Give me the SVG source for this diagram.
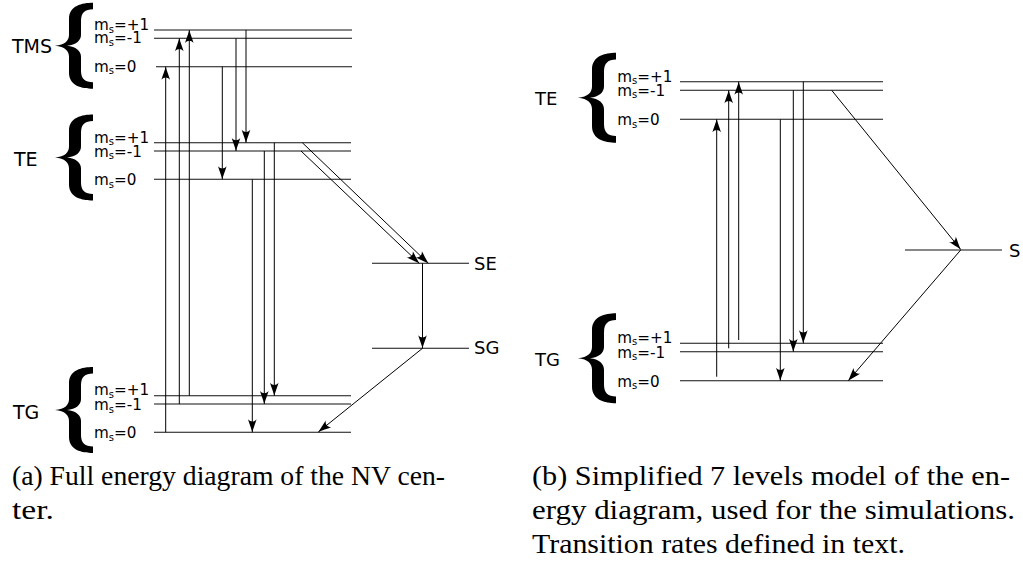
<svg xmlns="http://www.w3.org/2000/svg" width="1023" height="576" viewBox="0 0 1023 576">
<style>
.lvl{stroke:#111;stroke-width:1.1;fill:none}
.conn{stroke:#000;stroke-width:1;fill:none;marker-end:url(#ah)}
.ms{font-family:"DejaVu Sans",sans-serif;font-size:15.2px;fill:#000}
.sub{font-size:10px}
.grp{font-family:"DejaVu Sans",sans-serif;font-size:19px;fill:#000}
.grpr{font-family:"DejaVu Sans",sans-serif;font-size:18px;fill:#000}
.cap{font-family:"Liberation Serif","Times New Roman",serif;font-size:27px;fill:#000}
.brace{fill:#000}
</style>
<defs>
<marker id="ah" viewBox="-14 -6 15 12" refX="0" refY="0" markerWidth="15" markerHeight="12" markerUnits="userSpaceOnUse" orient="auto" overflow="visible">
<path d="M0,0 C-4,-1.2 -9,-3 -13,-4.3 C-10,-1.5 -10,1.5 -13,4.3 C-9,3 -4,1.2 0,0 Z" fill="#000"/>
</marker>
<path id="br" d="M38,0 C27,0 14,3 14,16 L14,32 C14,38 10,42 0,43 C10,44 14,48 14,54 L14,70 C14,83 27,86 38,86 L38,79.5 C30,79.5 26,76 26,68 L26,54 C26,48 21,44 12,43 C21,42 26,38 26,32 L26,18 C26,10 30,6.5 38,6.5 Z"/>
</defs>

<!-- Left diagram -->
<g id="TMS">
<use href="#br" class="brace" transform="translate(55,2.7)"/>
<text class="grp" x="12" y="53.3">TMS</text>
<line class="lvl" x1="154" y1="30" x2="352" y2="30"/>
<line class="lvl" x1="154" y1="38.3" x2="352" y2="38.3"/>
<line class="lvl" x1="156" y1="66.7" x2="352" y2="66.7"/>
<text class="ms" x="94" y="30.2">m<tspan class="sub" dy="2.5">s</tspan><tspan dy="-2.5">=+1</tspan></text>
<text class="ms" x="94" y="43.3">m<tspan class="sub" dy="2.5">s</tspan><tspan dy="-2.5">=-1</tspan></text>
<text class="ms" x="94" y="71.7">m<tspan class="sub" dy="2.5">s</tspan><tspan dy="-2.5">=0</tspan></text>
</g>

<g id="TE-a">
<use href="#br" class="brace" transform="translate(55,114.5)"/>
<text class="grp" x="14" y="165.7">TE</text>
<line class="lvl" x1="154" y1="142.7" x2="351" y2="142.7"/>
<line class="lvl" x1="154" y1="151" x2="351" y2="151"/>
<line class="lvl" x1="154" y1="179.3" x2="351" y2="179.3"/>
<text class="ms" x="94" y="142.8">m<tspan class="sub" dy="2.5">s</tspan><tspan dy="-2.5">=+1</tspan></text>
<text class="ms" x="94" y="156.7">m<tspan class="sub" dy="2.5">s</tspan><tspan dy="-2.5">=-1</tspan></text>
<text class="ms" x="94" y="185">m<tspan class="sub" dy="2.5">s</tspan><tspan dy="-2.5">=0</tspan></text>
</g>

<g id="SE">
<line class="lvl" x1="372" y1="263.3" x2="469" y2="263.3"/>
<text class="grpr" x="474" y="270">SE</text>
</g>

<g id="SG">
<line class="lvl" x1="372" y1="348.3" x2="469" y2="348.3"/>
<text class="grpr" x="474" y="354">SG</text>
</g>

<g id="TG-a">
<use href="#br" class="brace" transform="translate(55,367)"/>
<text class="grp" x="13" y="419">TG</text>
<line class="lvl" x1="154" y1="395.7" x2="351" y2="395.7"/>
<line class="lvl" x1="154" y1="404" x2="351" y2="404"/>
<line class="lvl" x1="154" y1="432.3" x2="351" y2="432.3"/>
<text class="ms" x="94" y="395.2">m<tspan class="sub" dy="2.5">s</tspan><tspan dy="-2.5">=+1</tspan></text>
<text class="ms" x="94" y="410">m<tspan class="sub" dy="2.5">s</tspan><tspan dy="-2.5">=-1</tspan></text>
<text class="ms" x="94" y="438.3">m<tspan class="sub" dy="2.5">s</tspan><tspan dy="-2.5">=0</tspan></text>
</g>

<!-- Right diagram -->
<g id="TE-b">
<use href="#br" class="brace" transform="translate(578,52.7) scale(1,1.047)"/>
<text class="grpr" x="535" y="105">TE</text>
<line class="lvl" x1="680" y1="81.7" x2="883" y2="81.7"/>
<line class="lvl" x1="680" y1="90.3" x2="883" y2="90.3"/>
<line class="lvl" x1="680" y1="119.3" x2="883" y2="119.3"/>
<text class="ms" x="617.3" y="81.8">m<tspan class="sub" dy="2.5">s</tspan><tspan dy="-2.5">=+1</tspan></text>
<text class="ms" x="617.3" y="95.7">m<tspan class="sub" dy="2.5">s</tspan><tspan dy="-2.5">=-1</tspan></text>
<text class="ms" x="617.3" y="125">m<tspan class="sub" dy="2.5">s</tspan><tspan dy="-2.5">=0</tspan></text>
</g>

<g id="S-b">
<line class="lvl" x1="905" y1="250" x2="1002" y2="250"/>
<text class="grpr" x="1009" y="256.5">S</text>
</g>

<g id="TG-b">
<use href="#br" class="brace" transform="translate(578,313.3) scale(1,1.047)"/>
<text class="grpr" x="535" y="366">TG</text>
<line class="lvl" x1="680" y1="343.3" x2="883" y2="343.3"/>
<line class="lvl" x1="680" y1="351.7" x2="883" y2="351.7"/>
<line class="lvl" x1="680" y1="380.7" x2="883" y2="380.7"/>
<text class="ms" x="617.3" y="342.8">m<tspan class="sub" dy="2.5">s</tspan><tspan dy="-2.5">=+1</tspan></text>
<text class="ms" x="617.3" y="357.7">m<tspan class="sub" dy="2.5">s</tspan><tspan dy="-2.5">=-1</tspan></text>
<text class="ms" x="617.3" y="386.7">m<tspan class="sub" dy="2.5">s</tspan><tspan dy="-2.5">=0</tspan></text>
</g>

<g id="connectors">
<!-- left: TG -> TMS -->
<line class="conn" x1="165.7" y1="432.3" x2="165.7" y2="66.7"/>
<line class="conn" x1="179.3" y1="404" x2="179.3" y2="38.3"/>
<line class="conn" x1="189.3" y1="395.7" x2="189.3" y2="30"/>
<!-- TMS -> TE -->
<line class="conn" x1="222.3" y1="66.7" x2="222.3" y2="179.3"/>
<line class="conn" x1="236" y1="38.3" x2="236" y2="151"/>
<line class="conn" x1="246" y1="30" x2="246" y2="142.7"/>
<!-- TE -> TG -->
<line class="conn" x1="252.3" y1="179.3" x2="252.3" y2="432.3"/>
<line class="conn" x1="264.3" y1="151" x2="264.3" y2="404"/>
<line class="conn" x1="274.3" y1="142.7" x2="274.3" y2="395.7"/>
<!-- TE -> SE -->
<line class="conn" x1="302.3" y1="142.7" x2="428.3" y2="263.3"/>
<line class="conn" x1="301" y1="151" x2="419.3" y2="263.3"/>
<!-- SE -> SG -->
<line class="conn" x1="422.5" y1="263.3" x2="422.5" y2="348.3"/>
<!-- SG -> TG0 -->
<line class="conn" x1="422.5" y1="348.3" x2="318.3" y2="432"/>

<!-- right: TG -> TE -->
<line class="conn" x1="716.7" y1="376.7" x2="716.7" y2="119.3"/>
<line class="conn" x1="728.7" y1="348.3" x2="728.7" y2="90.3"/>
<line class="conn" x1="738.7" y1="340" x2="738.7" y2="81.7"/>
<!-- TE -> TG -->
<line class="conn" x1="780.3" y1="119.3" x2="780.3" y2="380.7"/>
<line class="conn" x1="793.3" y1="90.3" x2="793.3" y2="351.7"/>
<line class="conn" x1="803.3" y1="81.7" x2="803.3" y2="343.3"/>
<!-- TE -> S -> TG0 -->
<line class="conn" x1="831.7" y1="90.3" x2="960.7" y2="249.5"/>
<line class="conn" x1="960.7" y1="250" x2="848.3" y2="380.7"/>
</g>

<g id="captions">
<text class="cap" x="12" y="485" textLength="433" lengthAdjust="spacingAndGlyphs">(a) Full energy diagram of the NV cen-</text>
<text class="cap" x="12" y="519" textLength="42" lengthAdjust="spacingAndGlyphs">ter.</text>
<text class="cap" x="532" y="485" textLength="478" lengthAdjust="spacingAndGlyphs">(b) Simplified 7 levels model of the en-</text>
<text class="cap" x="532" y="519" textLength="483" lengthAdjust="spacingAndGlyphs">ergy diagram, used for the simulations.</text>
<text class="cap" x="532" y="553" textLength="373" lengthAdjust="spacingAndGlyphs">Transition rates defined in text.</text>
</g>
</svg>
